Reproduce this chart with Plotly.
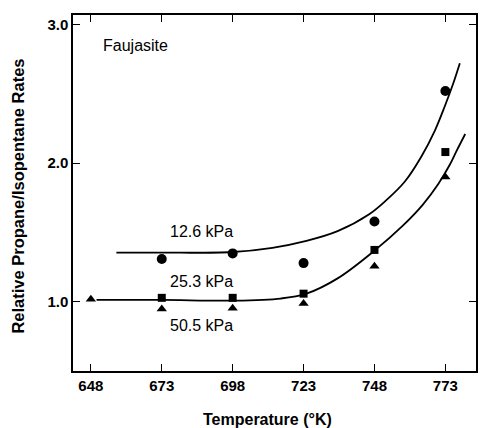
import plotly.graph_objects as go

# Measured points
temps_126 = [673, 698, 723, 748, 773]
rates_126 = [1.31, 1.35, 1.28, 1.58, 2.52]

temps_253 = [673, 698, 723, 748, 773]
rates_253 = [1.03, 1.03, 1.06, 1.375, 2.08]

temps_505 = [648, 673, 698, 723, 748, 773]
rates_505 = [1.02, 0.95, 0.955, 0.99, 1.257, 1.90]

# Hand-drawn fit curves
upper_fit_T = [657, 673, 698, 712, 724, 735, 746, 752, 758.8, 764.6, 769.3, 772.8, 775.7, 778.1]
upper_fit_y = [1.355, 1.355, 1.36, 1.39, 1.44, 1.51, 1.63, 1.73, 1.87, 2.05, 2.235, 2.41, 2.57, 2.72]

lower_fit_T = [650, 673, 698, 715, 724, 735, 748, 758, 765, 770.5, 774.6, 777, 780]
lower_fit_y = [1.015, 1.015, 1.01, 1.025, 1.06, 1.17, 1.37, 1.55, 1.70, 1.85, 1.99, 2.09, 2.21]

x_ticks = [648, 673, 698, 723, 748, 773]
y_ticks = [1.0, 2.0, 3.0]

FONT = "Liberation Sans, Arial, Helvetica, sans-serif"

fig = go.Figure()
line_style = dict(color="black", width=1.8, shape="spline", smoothing=1.0)
fig.add_trace(go.Scatter(x=upper_fit_T, y=upper_fit_y, mode="lines", line=line_style, hoverinfo="skip"))
fig.add_trace(go.Scatter(x=lower_fit_T, y=lower_fit_y, mode="lines", line=line_style, hoverinfo="skip"))

fig.add_trace(go.Scatter(x=temps_126, y=rates_126, mode="markers", name="12.6 kPa",
                         marker=dict(symbol="circle", size=10, color="black")))
fig.add_trace(go.Scatter(x=temps_253, y=rates_253, mode="markers", name="25.3 kPa",
                         marker=dict(symbol="square", size=8, color="black")))
fig.add_trace(go.Scatter(x=temps_505, y=rates_505, mode="markers", name="50.5 kPa",
                         marker=dict(symbol="triangle-up", size=9, color="black")))

axis_common = dict(showgrid=False, zeroline=False, showline=True, linecolor="black", linewidth=1.5,
                   ticks="inside", ticklen=7, tickwidth=1.3, tickcolor="black", mirror="ticks",
                   tickfont=dict(family=FONT, size=15, color="black", weight="bold"))

fig.update_xaxes(range=[641.7, 783.8], tickvals=x_ticks, ticktext=[str(v) for v in x_ticks], **axis_common)
fig.update_yaxes(range=[0.503, 3.067], tickvals=y_ticks, ticktext=[f"{v:.1f}" for v in y_ticks], **axis_common)

ann_font = dict(family=FONT, size=16, color="black")
annotations = [
    dict(x=0.069, y=0.915, xref="paper", yref="paper", text="Faujasite", showarrow=False,
         xanchor="left", yanchor="middle", font=dict(family=FONT, size=16, color="black")),
    dict(x=687, y=1.51, text="12.6 kPa", showarrow=False, xanchor="center", yanchor="middle", font=ann_font),
    dict(x=687, y=1.145, text="25.3 kPa", showarrow=False, xanchor="center", yanchor="middle", font=ann_font),
    dict(x=687, y=0.83, text="50.5 kPa", showarrow=False, xanchor="center", yanchor="middle", font=ann_font),
    dict(x=0.4828, y=-0.135, xref="paper", yref="paper", text="Temperature (°K)", showarrow=False,
         xanchor="center", yanchor="middle", font=dict(family=FONT, size=16, color="black", weight="bold")),
    dict(x=-0.1364, y=0.49, xref="paper", yref="paper", text="Relative Propane/Isopentane Rates",
         showarrow=False, textangle=-90, xanchor="center", yanchor="middle",
         font=dict(family=FONT, size=16.5, color="black", weight="bold")),
]

fig.update_layout(width=480, height=428, margin=dict(l=73, r=2, t=15, b=57),
                  paper_bgcolor="white", plot_bgcolor="white", showlegend=False,
                  annotations=annotations)

fig.write_html("out.html")
